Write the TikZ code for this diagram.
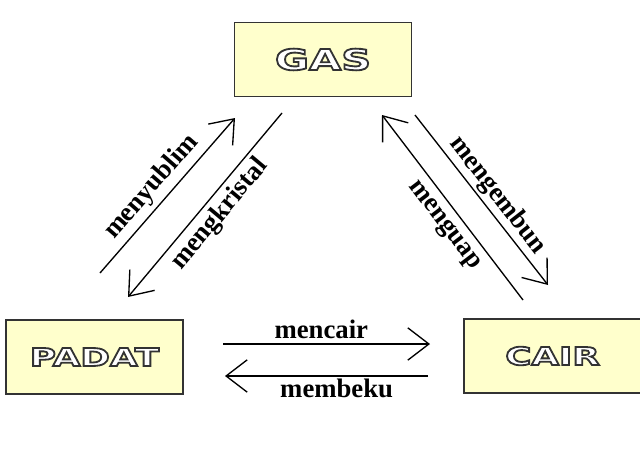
\documentclass[tikz,border=0pt]{standalone}
\usepackage{fontspec}
\setmainfont{Liberation Serif}
\newfontfamily\zatfont[FakeStretch=1.45]{DejaVu Sans}
\usetikzlibrary{arrows.meta}
\definecolor{boxfill}{HTML}{FFFFCC}
\definecolor{boxline}{HTML}{333333}
\newcommand{\zatname}[1]{\textcolor{white}{\special{pdf:literal direct 2 Tr 1.3 w 0.2 0.2 0.2 RG}#1\special{pdf:literal direct 0 Tr}}}
\tikzset{
    zat/.style={draw=boxline,fill=boxfill,line width=1.2pt,minimum width=4.42cm,minimum height=1.85cm,font=\zatfont\bfseries\fontsize{17.5}{20}\selectfont},
    proses/.style={-{Straight Barb[length=15pt,width=23pt]},line width=0.95pt},
    ket/.style={font=\bfseries\fontsize{19}{22}\selectfont}
}

\begin{document}
\begin{tikzpicture}[x=0.025cm,y=-0.025cm]
\useasboundingbox (0,0) rectangle (640,467);
\node[zat] (gas) at (323,59.5) {\zatname{\fontsize{20.4}{23}\selectfont GAS}};
\node[zat] (padat) at (94.5,357) {\zatname{PADAT}};
\node[zat] (cair) at (552.5,356) {\zatname{CAIR}};
\coordinate (A1) at (100,273);
\coordinate (A2) at (235,118);
\coordinate (B1) at (282,113);
\coordinate (B2) at (128,297);
\coordinate (C1) at (523,300);
\coordinate (C2) at (382,115);
\coordinate (D1) at (415,115);
\coordinate (D2) at (548,285);
\coordinate (E1) at (223,344);
\coordinate (E2) at (430,344);
\coordinate (F1) at (428,376);
\coordinate (F2) at (225,376);
\draw[proses] (A1) -- node[ket,sloped,pos=0.48,above]{menyublim} (A2);
\draw[proses] (B1) -- node[ket,sloped,pos=0.49,below]{mengkristal} (B2);
\draw[proses] (C1) -- node[ket,sloped,pos=0.46,below=2pt]{menguap} (C2);
\draw[proses] (D1) -- node[ket,sloped,pos=0.53,above=-1.5pt]{mengembun} (D2);
\draw[proses] (E1) -- node[ket,pos=0.475,above]{mencair} (E2);
\draw[proses] (F1) -- node[ket,pos=0.45,below=-2pt]{membeku} (F2);
\end{tikzpicture}
\end{document}
